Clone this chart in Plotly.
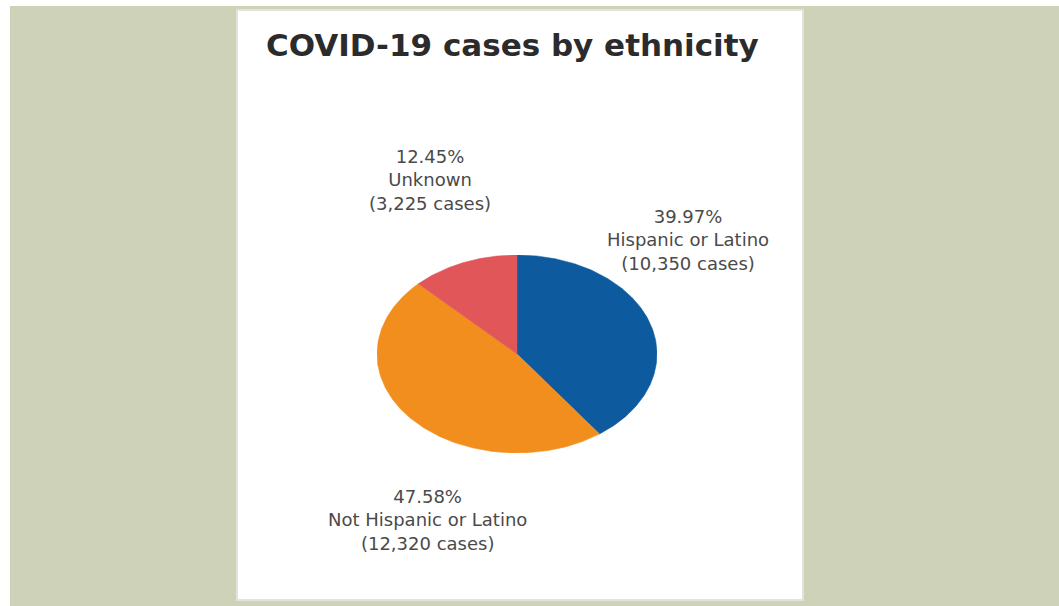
import numpy as np
import plotly.graph_objects as go

# COVID-19 case counts by ethnicity
categories = ["Hispanic or Latino", "Not Hispanic or Latino", "Unknown"]
cases = [10350, 12320, 3225]
colors = ["#0d5a9e", "#f28e1e", "#e15759"]

W, H = 1059, 606
total = sum(cases)
shares = [c / total for c in cases]

fig = go.Figure()

# Wedges: clockwise from 12 o'clock on a unit circle; the axis domains
# stretch the circle into the wide oval.
start = 0.0
for name, share, col in zip(categories, shares, colors):
    t = np.linspace(start, start + share, 200) * 2 * np.pi
    xs = np.concatenate([[0], np.sin(t), [0]])
    ys = np.concatenate([[0], np.cos(t), [0]])
    fig.add_trace(go.Scatter(
        x=xs, y=ys, mode="lines", fill="toself", fillcolor=col,
        line=dict(color=col, width=0.5), name=name, hoverinfo="name",
        showlegend=False,
    ))
    start += share

def px_x(v):
    return v / W

def px_y(v):
    return 1 - v / H

fig.update_layout(
    width=W, height=H,
    margin=dict(l=0, r=0, t=0, b=0),
    paper_bgcolor="white", plot_bgcolor="rgba(0,0,0,0)",
    xaxis=dict(domain=[px_x(377), px_x(657)], range=[-1, 1], visible=False, fixedrange=True),
    yaxis=dict(domain=[px_y(453), px_y(255)], range=[-1, 1], visible=False, fixedrange=True),
    showlegend=False,
)

# Backdrop and white card
fig.add_shape(type="rect", xref="paper", yref="paper", layer="below",
              x0=px_x(10), x1=1, y0=0, y1=px_y(6),
              fillcolor="#cdd2b8", line=dict(width=0))
fig.add_shape(type="rect", xref="paper", yref="paper", layer="below",
              x0=px_x(237), x1=px_x(803), y0=px_y(600), y1=px_y(10),
              fillcolor="white", line=dict(color="#e2e4dc", width=2))

# Title
fig.add_annotation(xref="paper", yref="paper", x=px_x(264), y=px_y(45),
                   xanchor="left", yanchor="middle", showarrow=False,
                   text="<b>COVID-19 cases by ethnicity</b>",
                   font=dict(family="DejaVu Sans", size=31, color="#2b2b2b"))

# Slice labels
label_pos = {
    "Hispanic or Latino": (688, 240),
    "Not Hispanic or Latino": (427, 520),
    "Unknown": (430, 180),
}
for name, share, n in zip(categories, shares, cases):
    x, y = label_pos[name]
    fig.add_annotation(xref="paper", yref="paper", x=px_x(x), y=px_y(y),
                       xanchor="center", yanchor="middle", showarrow=False,
                       text=f"{share*100:.2f}%<br>{name}<br>({n:,} cases)",
                       font=dict(family="DejaVu Sans", size=18, color="#4a4a4a"))

fig.write_html("out.html")
